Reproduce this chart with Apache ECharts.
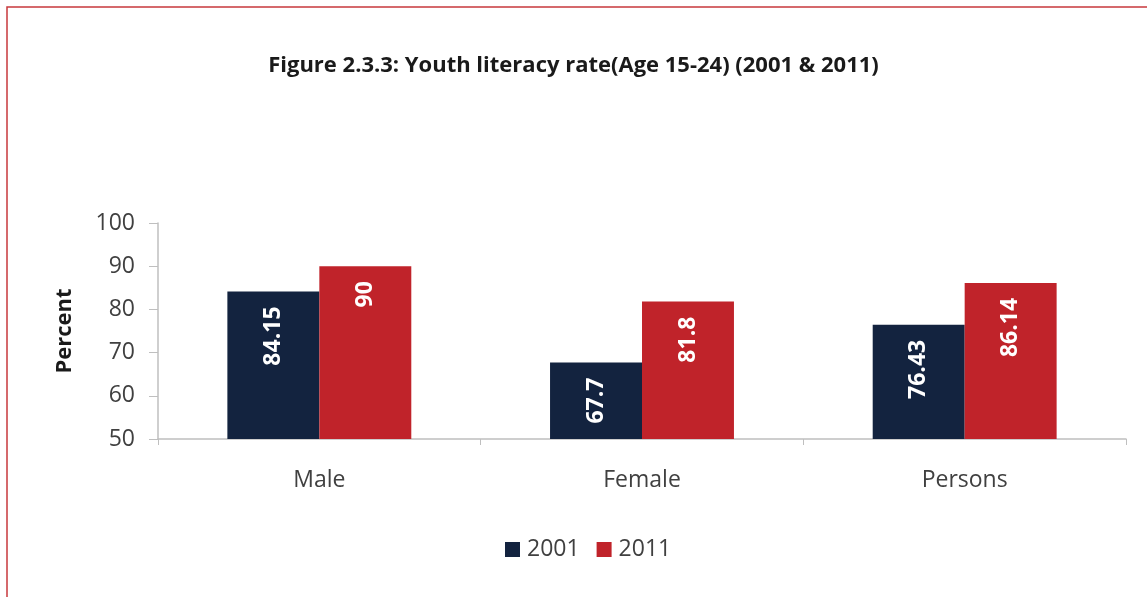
<!DOCTYPE html>
<html><head><meta charset="utf-8">
<script src="https://cdn.jsdelivr.net/npm/echarts@6/dist/echarts.min.js"></script>
<style>html,body{margin:0;padding:0;background:#fff}#c{width:1147px;height:597px}</style>
</head><body><div id="c"></div>
<script>
const categories = ['Male', 'Female', 'Persons'];
const seriesNames = ['2001', '2011'];
const values2001 = [84.15, 67.7, 76.43];
const values2011 = [90, 81.8, 86.14];
const titleText = 'Figure 2.3.3: Youth literacy rate(Age 15-24) (2001 & 2011)';
const yAxisName = 'Percent';

const FONT = 'Open Sans';
const chart = echarts.init(document.getElementById('c'));
const labelOpt = {
  show: true, position: 'insideTop', rotate: 90, align: 'right', verticalAlign: 'middle',
  distance: 15, color: '#fff', fontWeight: 'bold', fontSize: 23, fontFamily: FONT
};
chart.setOption({
  animation: false,
  graphic: [{type: 'rect', shape: {x: 7, y: 7, width: 1300, height: 800},
    style: {fill: 'none', stroke: '#c8383d', lineWidth: 1.5}}],
  title: {text: titleText, left: 'center', top: 50,
    textStyle: {fontFamily: FONT, fontWeight: 'bold', fontSize: 22, color: '#1a1a1a'}},
  legend: {data: seriesNames, top: 533, left: 500, itemWidth: 15, itemHeight: 15, itemGap: 17,
    icon: 'rect', textStyle: {fontFamily: FONT, fontSize: 23, color: '#404040', padding: [0, 0, 0, 2]}},
  grid: {left: 158, right: 21, top: 223, bottom: 158},
  xAxis: {type: 'category', data: categories,
    axisLine: {lineStyle: {color: '#bfbfbf', width: 1.5}},
    axisTick: {show: true, length: 6, lineStyle: {color: '#bfbfbf'}},
    axisLabel: {margin: 30, fontFamily: FONT, fontSize: 23, color: '#404040'}},
  yAxis: {type: 'value', min: 50, max: 100, interval: 10,
    name: yAxisName, nameLocation: 'middle', nameGap: 82, nameRotate: 90,
    nameTextStyle: {fontFamily: FONT, fontWeight: 'bold', fontSize: 22, color: '#1a1a1a'},
    axisLine: {show: true, lineStyle: {color: '#bfbfbf', width: 1.5}},
    axisTick: {show: true, length: 9, lineStyle: {color: '#bfbfbf'}},
    splitLine: {show: false},
    axisLabel: {margin: 23, fontFamily: FONT, fontSize: 23, color: '#404040'}},
  series: [
    {name: seriesNames[0], type: 'bar', data: values2001, barGap: '0%', barCategoryGap: '43%',
      itemStyle: {color: '#13233f'}, label: labelOpt},
    {name: seriesNames[1], type: 'bar', data: values2011, barGap: '0%', barCategoryGap: '43%',
      itemStyle: {color: '#c0232a'}, label: labelOpt}
  ]
});
</script></body></html>
